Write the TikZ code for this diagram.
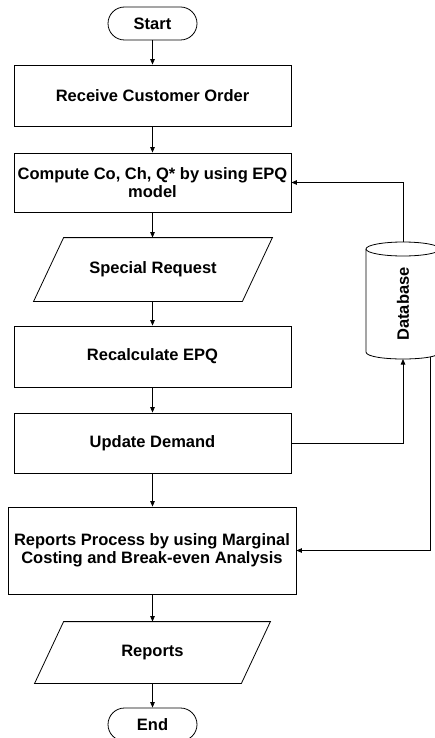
\documentclass[tikz,border=0pt]{standalone}
\usepackage{fontspec}
\setmainfont{Liberation Sans}
\usepackage{graphicx}
\usetikzlibrary{arrows.meta,calc}
\begin{document}
\begin{tikzpicture}[x=1pt,y=-1pt,
  every node/.style={font=\bfseries\fontsize{16.5}{18.5}\selectfont, align=center, inner sep=0pt},
  box/.style={draw, rectangle, minimum width=277pt, minimum height=61pt},
  term/.style={draw, rectangle, rounded corners=16.5pt, minimum width=89pt, minimum height=33pt},
  iobox/.style={rectangle, minimum height=63pt},
  arr/.style={-{Triangle[length=5.5pt,width=4.5pt]}},
  line width=0.8pt]
\useasboundingbox (0,0) rectangle (435,738);

\node[term] (start) at (152.5,23.5) {Start};
\node[box] (recv) at (152.5,95.5) {Receive Customer Order};
\node[box, minimum height=59pt] (comp) at (152.5,182.5) {Compute Co, Ch, Q* by using EPQ\\model};
\node[iobox, minimum width=238pt] (spec) at (153,269.5) {Special Request};
\draw ($(spec.north west)+(30,0)$) -- (spec.north east) -- ($(spec.south east)+(-30,0)$) -- (spec.south west) -- cycle;
\node[box] (recalc) at (152.5,356.5) {Recalculate EPQ};
\node[box, minimum height=60pt] (upd) at (152.5,443) {Update Demand};
\node[box, minimum width=288pt, minimum height=87pt] (rp) at (152,550.5) {Reports Process by using Marginal\\Costing and Break-even Analysis};
\node[iobox, minimum width=235pt, minimum height=61pt] (rep) at (152.5,652.5) {Reports};
\draw ($(rep.north west)+(29,0)$) -- (rep.north east) -- ($(rep.south east)+(-29,0)$) -- (rep.south west) -- cycle;
\node[term] (end) at (152.5,724.5) {End};

% database cylinder
\node[minimum width=74pt, minimum height=96pt] (db) at (403,304) {\rotatebox{90}{Database}};
\draw (366,249) -- (366,352) .. controls (366,361.33) and (440,361.33) .. (440,352) -- (440,249);
\draw (403,249) ellipse [x radius=37pt, y radius=7pt];
\coordinate (dbtop) at (403,242);
\coordinate (dbbot) at (403,359);
\coordinate (dbout) at (430,356.8);

% connectors
\draw[arr] (start.south) -- (recv.north);
\draw[arr] (recv.south) -- (comp.north);
\draw[arr] (comp.south) -- (spec.north -| comp.south);
\draw[arr] (spec.south -| comp.south) -- (recalc.north);
\draw[arr] (recalc.south) -- (upd.north);
\draw[arr] (upd.south) -- (rp.north -| upd.south);
\draw[arr] (rp.south -| upd.south) -- (rep.north);
\draw[arr] (rep.south) -- (end.north);
\draw[arr] (dbtop) |- (comp.east);
\draw[arr] (upd.east) -| (dbbot);
\draw[arr] (dbout) |- (rp.east);
\end{tikzpicture}
\end{document}
